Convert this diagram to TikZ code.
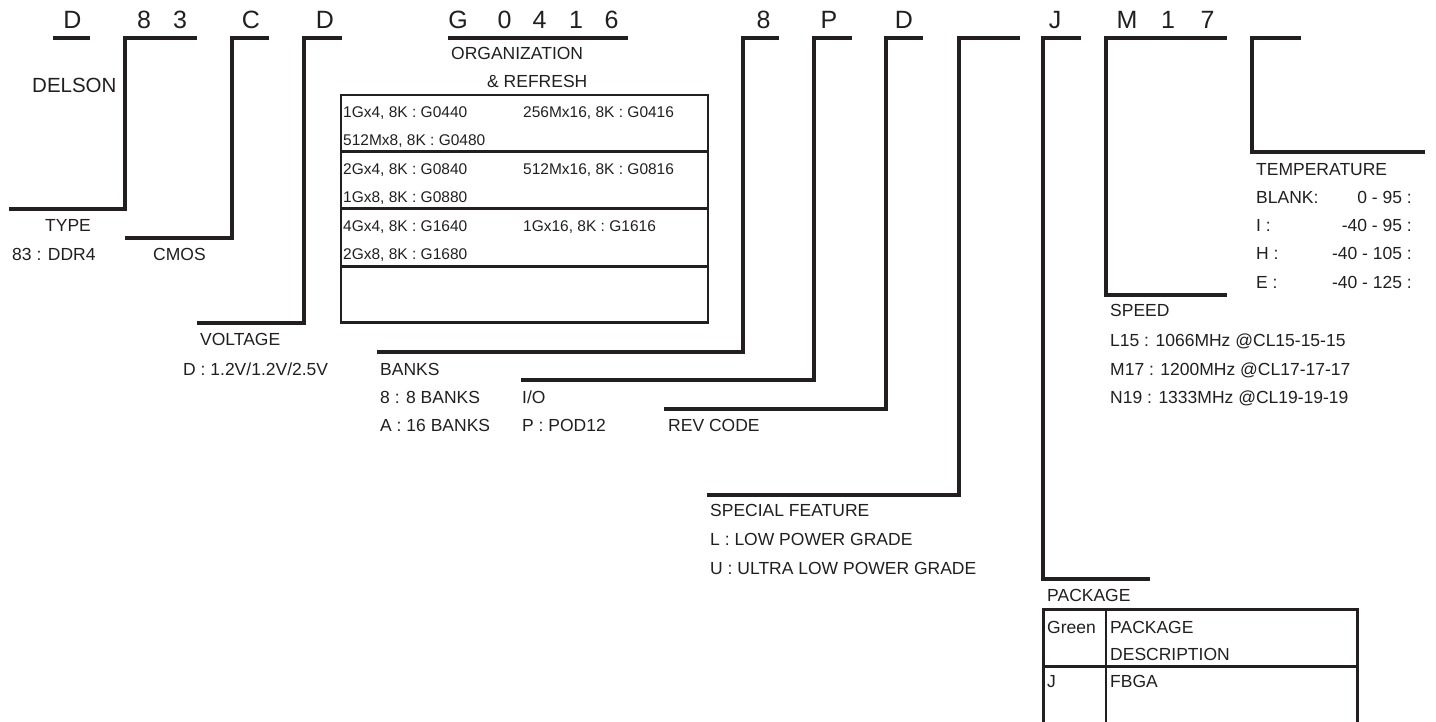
\documentclass[tikz,border=0pt]{standalone}
\usepackage{fontspec}
\setmainfont{Liberation Sans}
\definecolor{ink}{HTML}{231F20}
\begin{document}
\begin{tikzpicture}[x=1pt,y=-1pt,
  code/.style={font=\fontsize{25}{30}\selectfont, text=ink, inner sep=0pt, anchor=base},
  lbl/.style={font=\fontsize{17.5}{21}\selectfont, text=ink, inner sep=0pt, anchor=base west},
  bigl/.style={font=\fontsize{20.5}{25}\selectfont, text=ink, inner sep=0pt, anchor=base west},
  cell/.style={font=\fontsize{15.5}{19}\selectfont, text=ink, inner sep=0pt, anchor=base west},
  val/.style={font=\fontsize{17.5}{21}\selectfont, text=ink, inner sep=0pt, anchor=base east},
  brk/.style={draw=ink, line width=3.3pt, line cap=butt, line join=miter},
  tbl/.style={draw=ink, line width=2.4pt},
]
\fill[white] (0,0) rectangle (1436,721);
\useasboundingbox (0,0) rectangle (1436,721);

% ---- code letters ----
\node[code] (cD1) at (72.5,28) {D};
\node[code] (c8a) at (144,28) {8};
\node[code] (c3)  at (180,28) {3};
\node[code] (cC)  at (251,28) {C};
\node[code] (cD2) at (325,28) {D};
\node[code] (cG)  at (458,28) {G};
\node[code] (c0)  at (504.5,28) {0};
\node[code] (c4)  at (539.5,28) {4};
\node[code] (c1)  at (576,28) {1};
\node[code] (c6)  at (611.5,28) {6};
\node[code] (c8b) at (763.5,28) {8};
\node[code] (cP)  at (829,28) {P};
\node[code] (cD3) at (904,28) {D};
\node[code] (cJ)  at (1055,28) {J};
\node[code] (cM)  at (1127,28) {M};
\node[code] (c1b) at (1168,28) {1};
\node[code] (c7)  at (1207.5,28) {7};

% ---- underlines without bracket ----
\draw[brk] (53,38) -- (90,38);
\draw[brk] (448,38) -- (628,38);

% ---- bracket coordinates ----
\coordinate (t83a) at (197,38);   \coordinate (t83b) at (125,38);
\coordinate (t83c) at (125,209);  \coordinate (t83d) at (9,209);
\coordinate (tCa) at (269,38);    \coordinate (tCb) at (232,38);
\coordinate (tCc) at (232,238);   \coordinate (tCd) at (125,238);
\coordinate (tVa) at (342,38);    \coordinate (tVb) at (304,38);
\coordinate (tVc) at (304,323);   \coordinate (tVd) at (197,323);
\coordinate (tBa) at (779,38);    \coordinate (tBb) at (743,38);
\coordinate (tBc) at (743,352);   \coordinate (tBd) at (377,352);
\coordinate (tPa) at (852,38);    \coordinate (tPb) at (814,38);
\coordinate (tPc) at (814,380);   \coordinate (tPd) at (521,380);
\coordinate (tRa) at (923,38);    \coordinate (tRb) at (886,38);
\coordinate (tRc) at (886,409);   \coordinate (tRd) at (664,409);
\coordinate (tSa) at (1020,38);   \coordinate (tSb) at (959,38);
\coordinate (tSc) at (959,495);   \coordinate (tSd) at (707,495);
\coordinate (tJa) at (1081,38);   \coordinate (tJb) at (1043,38);
\coordinate (tJc) at (1043,579);  \coordinate (tJd) at (1150,579);
\coordinate (tMa) at (1227,38);   \coordinate (tMb) at (1106,38);
\coordinate (tMc) at (1106,295);  \coordinate (tMd) at (1227,295);
\coordinate (tTa) at (1301,38);   \coordinate (tTb) at (1252,38);
\coordinate (tTc) at (1252,152);  \coordinate (tTd) at (1425,152);

\foreach \k in {83,C,V,B,P,R,S,J,M,T}{
  \draw[brk] (t\k a) -- (t\k b) -- (t\k c) -- (t\k d);
}

% ---- labels ----
\node[bigl] (delson) at (32,92) {DELSON};
\node[lbl] (type) at (45,231.5) {TYPE};
\node[lbl] (typev) at (12,260) {83 : DDR4};
\node[lbl] (cmos) at (153,260) {CMOS};
\node[lbl] (volt) at (200,345.5) {VOLTAGE};
\node[lbl] (voltv) at (183,375) {D : 1.2V/1.2V/2.5V};
\node[lbl] (org1) at (451,59) {ORGANIZATION};
\node[lbl] (org2) at (487,87) {\& REFRESH};
\node[lbl] (banks) at (380,375) {BANKS};
\node[lbl] (banks1) at (380,403) {8 : 8 BANKS};
\node[lbl] (banks2) at (380,431.5) {A : 16 BANKS};
\node[lbl] (io) at (522,403) {I/O};
\node[lbl] (io1) at (522,431.5) {P : POD12};
\node[lbl] (rev) at (668,431.5) {REV CODE};
\node[lbl] (sf) at (710,516.5) {SPECIAL FEATURE};
\node[lbl] (sf1) at (710,545) {L : LOW POWER GRADE};
\node[lbl] (sf2) at (710,574) {U : ULTRA LOW POWER GRADE};
\node[lbl] (pkg) at (1047,601.5) {PACKAGE};
\node[lbl] (spd) at (1110,316.5) {SPEED};
\node[lbl] (spd1) at (1110,346.5) {L15 : 1066MHz @CL15-15-15};
\node[lbl] (spd2) at (1110,375) {M17 : 1200MHz @CL17-17-17};
\node[lbl] (spd3) at (1110,403.5) {N19 : 1333MHz @CL19-19-19};
\node[lbl] (tmp) at (1256,175) {TEMPERATURE};
\node[lbl] (tb) at (1256,203.5) {BLANK:};
\node[lbl] (ti) at (1256,231) {I :};
\node[lbl] (th) at (1256,259.5) {H :};
\node[lbl] (te) at (1256,288) {E :};
\node[val] (tbv) at (1412,203.5) {0 - 95 :};
\node[val] (tiv) at (1412,231) {-40 - 95 :};
\node[val] (thv) at (1412,259.5) {-40 - 105 :};
\node[val] (tev) at (1412,288) {-40 - 125 :};

% ---- organization table ----
\draw[tbl] (341,95) rectangle (708,322.5);
\draw[tbl] (341,151.5) -- (708,151.5);
\draw[tbl] (341,208.5) -- (708,208.5);
\draw[tbl] (341,266.5) -- (708,266.5);
\node[cell] (r1a) at (343,117) {1Gx4, 8K : G0440};
\node[cell] (r1b) at (523,117) {256Mx16, 8K : G0416};
\node[cell] (r2a) at (343,145) {512Mx8, 8K : G0480};
\node[cell] (r3a) at (343,174.5) {2Gx4, 8K : G0840};
\node[cell] (r3b) at (523,174.5) {512Mx16, 8K : G0816};
\node[cell] (r4a) at (343,202.5) {1Gx8, 8K : G0880};
\node[cell] (r5a) at (343,231.5) {4Gx4, 8K : G1640};
\node[cell] (r5b) at (523,231.5) {1Gx16, 8K : G1616};
\node[cell] (r6a) at (343,259.5) {2Gx8, 8K : G1680};

% ---- package table ----
\draw[tbl] (1043.5,722) -- (1043.5,609.5) -- (1357.5,609.5) -- (1357.5,722);
\draw[tbl] (1106,609.5) -- (1106,722);
\draw[tbl] (1043.5,666.5) -- (1357.5,666.5);
\node[lbl] (pg) at (1047,633.5) {Green};
\node[lbl] (pd1) at (1110,633.5) {PACKAGE};
\node[lbl] (pd2) at (1110,660) {DESCRIPTION};
\node[lbl] (pj) at (1047,687) {J};
\node[lbl] (pf) at (1110,687) {FBGA};
\end{tikzpicture}
\end{document}
